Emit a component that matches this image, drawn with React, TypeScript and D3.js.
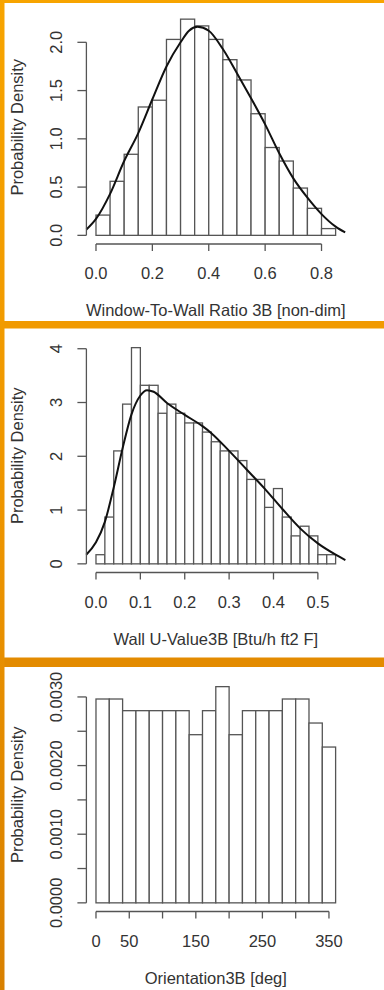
import * as d3 from 'd3';

// Window-to-wall ratio histogram (density) + kernel curve
const wwrBinWidth = 0.05;
const wwrDensity = [0.21, 0.56, 0.84, 1.33, 1.40, 2.03, 2.24, 2.17, 2.03, 1.82, 1.61, 1.26, 0.91, 0.77, 0.49, 0.28, 0.07];
const wwrCurveX = [-0.034, 0.0, 0.05, 0.1, 0.15, 0.2, 0.25, 0.3, 0.33, 0.36, 0.4, 0.45, 0.5, 0.55, 0.6, 0.65, 0.7, 0.75, 0.8, 0.85, 0.884];
const wwrCurveY = [0.06, 0.17, 0.43, 0.77, 1.06, 1.41, 1.75, 2.0, 2.12, 2.16, 2.12, 1.93, 1.68, 1.42, 1.15, 0.85, 0.59, 0.39, 0.22, 0.09, 0.03];
const wwrXTicks = [0, 0.2, 0.4, 0.6, 0.8];
const wwrYTicks = [0, 0.5, 1, 1.5, 2];

// Wall U-value
const uBinWidth = 0.02;
const uDensity = [0.17, 0.87, 2.10, 2.97, 4.02, 3.32, 3.32, 2.80, 2.97, 2.80, 2.62, 2.62, 2.45, 2.27, 2.10, 2.10, 1.92, 1.57, 1.57, 1.05, 1.40, 0.87, 0.52, 0.70, 0.52, 0.17, 0.17];
const uCurveX = [-0.022, 0.0, 0.02, 0.04, 0.06, 0.08, 0.1, 0.115, 0.13, 0.16, 0.2, 0.24, 0.26, 0.3, 0.34, 0.38, 0.42, 0.46, 0.5, 0.54, 0.562];
const uCurveY = [0.17, 0.4, 0.78, 1.42, 2.15, 2.78, 3.13, 3.23, 3.2, 2.99, 2.77, 2.56, 2.43, 2.1, 1.75, 1.4, 1.02, 0.66, 0.38, 0.17, 0.07];
const uXTicks = [0, 0.1, 0.2, 0.3, 0.4, 0.5];
const uYTicks = [0, 1, 2, 3, 4];

// Orientation
const orBinWidth = 20;
const orDensity = [0.00297, 0.00297, 0.0028, 0.0028, 0.0028, 0.0028, 0.0028, 0.00245, 0.0028, 0.00315, 0.00245, 0.0028, 0.0028, 0.0028, 0.00297, 0.00297, 0.00262, 0.00227];
const orXTicks = [0, 50, 100, 150, 200, 250, 300, 350];
const orXLabels = [0, 50, 150, 250, 350];
const orYTicks = [0, 0.0005, 0.001, 0.0015, 0.002, 0.0025, 0.003];
const orYLabels = [0, 0.001, 0.002, 0.003];

const W = 384;
const H = 990;
const FONT = '"Liberation Sans", Arial, Helvetica, sans-serif';
const plotLeft = 86.4;
const plotRight = 345.2;
const plotTop = 10.5;
const plotBottom = 244;

type Panel = {
  offset: number;
  binWidth: number;
  density: number[];
  curveX?: number[];
  curveY?: number[];
  xTicks: number[];
  xLabels: number[];
  xFmt: (v: number) => string;
  yTicks: number[];
  yLabels: number[];
  yFmt: (v: number) => string;
  xTitle: string;
};

const panels: Panel[] = [
  {
    offset: 0,
    binWidth: wwrBinWidth,
    density: wwrDensity,
    curveX: wwrCurveX,
    curveY: wwrCurveY,
    xTicks: wwrXTicks,
    xLabels: wwrXTicks,
    xFmt: d3.format('.1f'),
    yTicks: wwrYTicks,
    yLabels: wwrYTicks,
    yFmt: d3.format('.1f'),
    xTitle: 'Window-To-Wall Ratio 3B [non-dim]',
  },
  {
    offset: 328.5,
    binWidth: uBinWidth,
    density: uDensity,
    curveX: uCurveX,
    curveY: uCurveY,
    xTicks: uXTicks,
    xLabels: uXTicks,
    xFmt: d3.format('.1f'),
    yTicks: uYTicks,
    yLabels: uYTicks,
    yFmt: d3.format('d'),
    xTitle: 'Wall U-Value3B [Btu/h ft2 F]',
  },
  {
    offset: 667.5,
    binWidth: orBinWidth,
    density: orDensity,
    xTicks: orXTicks,
    xLabels: orXLabels,
    xFmt: d3.format('d'),
    yTicks: orYTicks,
    yLabels: orYLabels,
    yFmt: d3.format('.4f'),
    xTitle: 'Orientation3B [deg]',
  },
];

function Hist({ p }: { p: Panel }) {
  const xMax = p.binWidth * p.density.length;
  const yMax = d3.max(p.density) as number;
  const x = d3
    .scaleLinear()
    .domain([-0.04 * xMax, 1.04 * xMax])
    .range([plotLeft, plotRight]);
  const y = d3
    .scaleLinear()
    .domain([-0.04 * yMax, 1.04 * yMax])
    .range([plotBottom, plotTop]);

  const line = d3
    .line<number>()
    .x((d) => x(d))
    .y((_, i) => y(p.curveY![i]))
    .curve(d3.curveMonotoneX);

  const stroke = '#555';
  const text = '#333';
  const xt0 = p.xTicks[0];
  const xt1 = p.xTicks[p.xTicks.length - 1];
  const yt0 = p.yTicks[0];
  const yt1 = p.yTicks[p.yTicks.length - 1];
  const midY = (plotTop + plotBottom) / 2;
  const midX = (plotLeft + plotRight) / 2;

  return (
    <g transform={`translate(0,${p.offset})`} fontFamily={FONT}>
      {/* bars */}
      {p.density.map((d, i) => (
        <rect
          key={i}
          x={x(i * p.binWidth)}
          y={y(d)}
          width={x((i + 1) * p.binWidth) - x(i * p.binWidth)}
          height={y(0) - y(d)}
          fill="#fff"
          stroke={stroke}
          strokeWidth={1.3}
        />
      ))}

      {/* density curve */}
      {p.curveX && (
        <path d={line(p.curveX) || ''} fill="none" stroke="#111" strokeWidth={2} />
      )}

      {/* x axis */}
      <line x1={x(xt0)} x2={x(xt1)} y1={plotBottom} y2={plotBottom} stroke={stroke} strokeWidth={1.3} />
      {p.xTicks.map((t) => (
        <line key={t} x1={x(t)} x2={x(t)} y1={plotBottom} y2={plotBottom + 7} stroke={stroke} strokeWidth={1.3} />
      ))}
      {p.xLabels.map((t) => (
        <text key={t} x={x(t)} y={plotBottom + 35} textAnchor="middle" fontSize={16.5} fill={text}>
          {p.xFmt(t)}
        </text>
      ))}
      <text x={midX} y={plotBottom + 72} textAnchor="middle" fontSize={16.5} fill={text}>
        {p.xTitle}
      </text>

      {/* y axis */}
      <line x1={plotLeft} x2={plotLeft} y1={y(yt0)} y2={y(yt1)} stroke={stroke} strokeWidth={1.3} />
      {p.yTicks.map((t) => (
        <line key={t} x1={plotLeft - 9} x2={plotLeft} y1={y(t)} y2={y(t)} stroke={stroke} strokeWidth={1.3} />
      ))}
      {p.yLabels.map((t) => (
        <text
          key={t}
          transform={`translate(62,${y(t)}) rotate(-90)`}
          textAnchor="middle"
          fontSize={16.5}
          fill={text}
        >
          {p.yFmt(t)}
        </text>
      ))}
      <text transform={`translate(22.5,${midY}) rotate(-90)`} textAnchor="middle" fontSize={16.5} fill={text}>
        Probability Density
      </text>
    </g>
  );
}

export default function App() {
  return (
    <svg
      width={W}
      height={H}
      viewBox={`0 0 ${W} ${H}`}
      style={{ position: 'absolute', left: 0, top: 0, background: '#fff' }}
    >
      <defs>
        <linearGradient id="frame" x1="0" y1="0" x2="0" y2="1">
          <stop offset="0%" stopColor="#F7A400" />
          <stop offset="50%" stopColor="#EE9600" />
          <stop offset="100%" stopColor="#D88000" />
        </linearGradient>
      </defs>
      <rect x={0} y={0} width={W} height={H} fill="#fff" />

      {panels.map((p, i) => (
        <Hist key={i} p={p} />
      ))}

      {/* orange frame */}
      <rect x={0} y={0} width={W} height={3} fill="#F7A400" />
      <rect x={0} y={321} width={W} height={7.5} fill="#F19A00" />
      <rect x={0} y={657.5} width={W} height={9.5} fill="#E38B00" />
      <rect x={0} y={0} width={4.5} height={H} fill="url(#frame)" />
    </svg>
  );
}
